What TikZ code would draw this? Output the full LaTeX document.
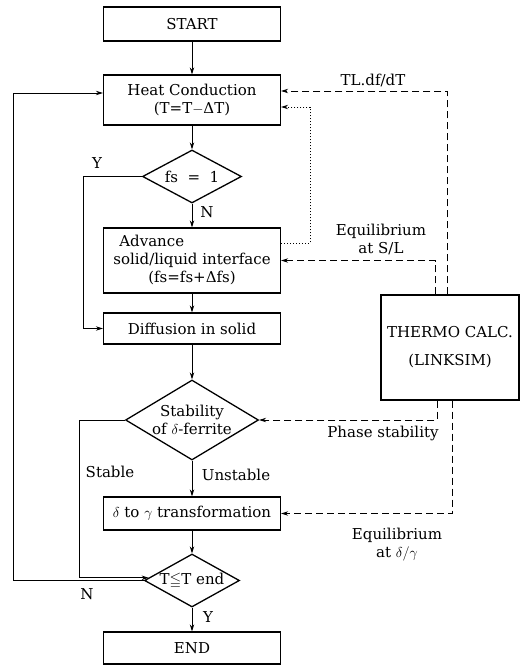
\documentclass[tikz,border=0pt]{standalone}
\usepackage{fontspec}
\usepackage{amssymb}
\setmainfont{DejaVu Serif}
\usetikzlibrary{shapes.geometric,arrows.meta,calc}
\tikzset{
  box/.style={draw,line width=1.3pt,minimum width=177pt,inner sep=2pt,align=center},
  dia/.style={draw,diamond,line width=1.3pt,inner sep=0pt,align=center},
  arr/.style={line width=0.9pt,-{Stealth[length=7pt,width=4.5pt]}},
  dsh/.style={arr,dash pattern=on 7pt off 4pt},
  dot/.style={arr,dash pattern=on 1.2pt off 1.8pt},
  lbl/.style={inner sep=0pt,align=center},
}
\begin{document}
\begin{tikzpicture}[x=1pt,y=-1pt,font=\fontsize{15}{18}\selectfont]
\useasboundingbox (0,0) rectangle (520,668);
\node[box,minimum height=34pt] (start) at (192,24) {START};
\node[box,minimum height=50pt] (heat) at (192,100) {Heat Conduction\\(T=T$-$ΔT)};
\node[dia,minimum width=99pt,minimum height=53pt,aspect=1.87] (fs) at (192,176.5) {fs\ \ =\ \ 1};
\node[box,minimum height=65pt] (adv) at (192,260.5) {\begin{tabular}{@{}l@{}}\hspace{6pt}Advance\\solid/liquid interface\\\multicolumn{1}{@{}c@{}}{(fs=fs+Δfs)}\end{tabular}};
\node[box,minimum height=31pt] (diff) at (192,328.5) {Diffusion in solid};
\node[dia,minimum width=133pt,minimum height=80pt,aspect=1.66] (stab) at (192,420) {Stability\\of $\delta$-ferrite};
\node[box,minimum height=33pt] (trans) at (192,513.5) {$\delta$ to $\gamma$ transformation};
\node[dia,minimum width=95pt,minimum height=53pt,aspect=1.8] (tend) at (192,580.5) {T$\leqq$T end};
\node[box,minimum height=32pt] (end) at (192,648) {END};
\node[box,minimum width=138pt,minimum height=105pt] (thermo) at (450,347.5) {THERMO CALC.\\[10pt](LINKSIM)};

\draw[arr] (start) -- (heat);
\draw[arr] (heat) -- (fs);
\draw[arr] (fs) -- (adv);
\draw[arr] (adv) -- (diff);
\draw[arr] (diff) -- (stab);
\draw[arr] (stab) -- (trans);
\draw[arr] (trans) -- (tend);
\draw[arr] (tend) -- (end);

\draw[arr] (fs.west) -- ++(-58,0) |- (diff.west);
\draw[arr] (stab.west) -- ++(-45,0) |- ($(tend.west)!0.1!(tend.north)$);
\draw[arr] (tend.west) -- ++(-130,0) |- ($(heat.west)+(0,-7)$);

\draw[dot] ($(adv.east)+(0,-17)$) -| (310,107) -- ($(heat.east)+(0,7)$);
\draw[dsh] (thermo.north -| 447,0) |- ($(heat.east)+(0,-9)$);
\draw[dsh] (thermo.north -| 435,0) |- (adv.east);
\draw[dsh] (thermo.south -| 437,0) |- (stab.east);
\draw[dsh] (thermo.south -| 452,0) |- (trans.east);

\node[lbl] (ly1) at (97,163) {Y};
\node[lbl] (ln1) at (207,212) {N};
\node[lbl] (lst) at (110,472) {Stable};
\node[lbl] (lun) at (236,475) {Unstable};
\node[lbl] (ly2) at (208,617) {Y};
\node[lbl] (ln2) at (87,594) {N};
\node[lbl] (ltl) at (373,80) {TL.df/dT};
\node[lbl] (lsl) at (381,239) {Equilibrium\\at S/L};
\node[lbl] (lps) at (383,433) {Phase stability};
\node[lbl] (ldg) at (397,545) {Equilibrium\\at $\delta/\gamma$};
\end{tikzpicture}
\end{document}
